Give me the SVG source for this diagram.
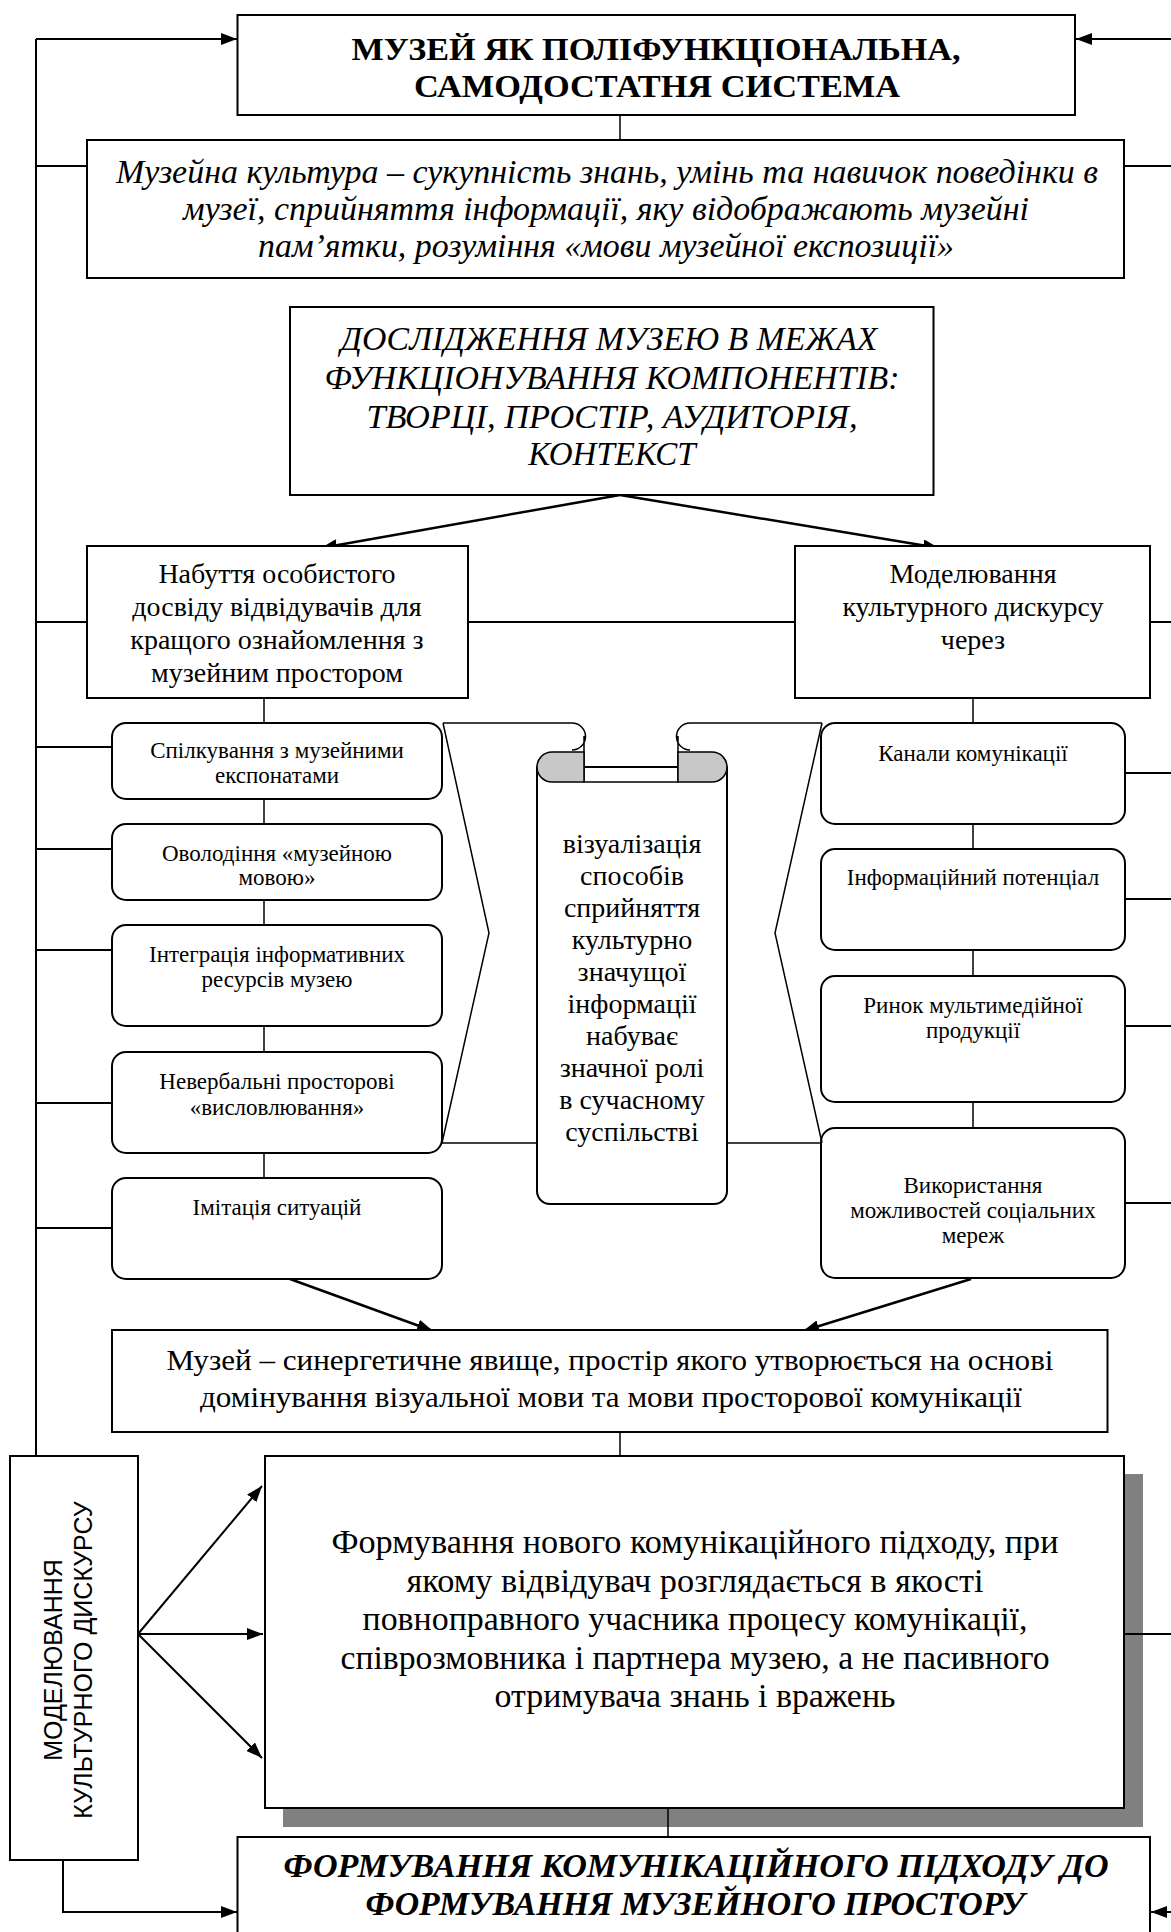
<svg xmlns="http://www.w3.org/2000/svg" width="1171" height="1932" viewBox="0 0 1171 1932">
<style>
.box{fill:#fff;stroke:#000;stroke-width:2}
.ln{fill:none;stroke:#000;stroke-width:2}
.th{fill:none;stroke:#000;stroke-width:1.5}
.ar{fill:none;stroke:#000;stroke-width:2.5}
text{font-family:"Liberation Serif","Times New Roman",serif;fill:#000;text-anchor:middle}
.t1{font-size:32px;font-weight:bold}
.it{font-size:34px;font-style:italic}
.it2{font-size:33px;font-style:italic}
.m{font-size:28px}
.s{font-size:23px}
.sc{font-size:28px}
.syn{font-size:30px}
.big{font-size:33px}
.fin{font-size:33px;font-weight:bold;font-style:italic}
.v{font-family:"Liberation Sans",Arial,sans-serif;font-size:25px}
</style>
<defs>
<marker id="ah" markerUnits="userSpaceOnUse" markerWidth="16" markerHeight="12" refX="16" refY="6" orient="auto">
<path d="M0,0 L16,6 L0,12 Z" fill="#000"/>
</marker>
</defs>

<g id="connectors">
<path class="ln" d="M36,39 L36,1456"/>
<path class="ln" d="M36,39 L237,39" marker-end="url(#ah)"/>
<path class="ln" d="M1171,39 L1076,39" marker-end="url(#ah)"/>
<path class="ln" d="M36,166 L87,166 M1124,166 L1171,166"/>
<path class="th" d="M620,115 L620,140"/>
<path class="ar" d="M620,495 L321,548" marker-end="url(#ah)"/>
<path class="ar" d="M620,495 L939,548" marker-end="url(#ah)"/>
<path class="ln" d="M36,622 L87,622 M468,622 L795,622 M1150,622 L1171,622"/>
<path class="th" d="M264,698 L264,1178"/>
<path class="th" d="M973,698 L973,1128"/>
<path class="ln" d="M36,747 L112,747 M36,849 L112,849 M36,950 L112,950 M36,1103 L112,1103 M36,1228 L112,1228"/>
<path class="ln" d="M1125,773 L1171,773 M1125,899 L1171,899 M1125,1026 L1171,1026 M1125,1203 L1171,1203"/>
<path class="th" d="M442,1143 L537,1143 M727,1143 L821,1143"/>
<path class="ar" d="M290,1279 L433,1331" marker-end="url(#ah)"/>
<path class="ar" d="M971,1279 L803,1331" marker-end="url(#ah)"/>
<path class="th" d="M620,1432 L620,1456"/>
<path class="ln" d="M138,1634 L262,1486" marker-end="url(#ah)"/>
<path class="ln" d="M138,1634 L263,1634" marker-end="url(#ah)"/>
<path class="ln" d="M138,1634 L262,1758" marker-end="url(#ah)"/>
<path class="ln" d="M63,1860 L63,1912 L237,1912" marker-end="url(#ah)"/>
<path class="ln" d="M1171,1912 L1151,1912" marker-end="url(#ah)"/>
</g>

<g id="n-title">
<rect class="box" x="237.5" y="15" width="837.5" height="100"/>
<text class="t1" x="656" y="60" textLength="609" lengthAdjust="spacingAndGlyphs">МУЗЕЙ ЯК ПОЛІФУНКЦІОНАЛЬНА,</text>
<text class="t1" x="657" y="97" textLength="486" lengthAdjust="spacingAndGlyphs">САМОДОСТАТНЯ СИСТЕМА</text>
</g>

<g id="n-culture">
<rect class="box" x="87" y="140" width="1037" height="138"/>
<text class="it" x="607" y="183" textLength="982" lengthAdjust="spacingAndGlyphs">Музейна культура – сукупність знань, умінь та навичок поведінки в</text>
<text class="it" x="606" y="220" textLength="846" lengthAdjust="spacingAndGlyphs">музеї, сприйняття інформації, яку відображають музейні</text>
<text class="it" x="606" y="257" textLength="696" lengthAdjust="spacingAndGlyphs">пам’ятки, розуміння «мови музейної експозиції»</text>
</g>

<g id="n-research">
<rect class="box" x="290" y="307" width="643.5" height="188"/>
<text class="it2" x="609" y="350" textLength="537" lengthAdjust="spacingAndGlyphs">ДОСЛІДЖЕННЯ МУЗЕЮ В МЕЖАХ</text>
<text class="it2" x="612" y="389" textLength="575" lengthAdjust="spacingAndGlyphs">ФУНКЦІОНУВАННЯ КОМПОНЕНТІВ:</text>
<text class="it2" x="612" y="428" textLength="491" lengthAdjust="spacingAndGlyphs">ТВОРЦІ, ПРОСТІР, АУДИТОРІЯ,</text>
<text class="it2" x="612" y="465">КОНТЕКСТ</text>
</g>

<g id="n-experience">
<rect class="box" x="87" y="546" width="381" height="152"/>
<text class="m" x="277" y="583">Набуття особистого</text>
<text class="m" x="277" y="616">досвіду відвідувачів для</text>
<text class="m" x="277" y="649">кращого ознайомлення з</text>
<text class="m" x="277" y="682">музейним простором</text>
</g>

<g id="n-modeling">
<rect class="box" x="795" y="546" width="355" height="152"/>
<text class="m" x="973" y="583">Моделювання</text>
<text class="m" x="973" y="616">культурного дискурсу</text>
<text class="m" x="973" y="649">через</text>
</g>

<g id="n-l1">
<rect class="box" x="112" y="723" width="330" height="76" rx="14"/>
<text class="s" x="277" y="758">Спілкування з музейними</text>
<text class="s" x="277" y="783">експонатами</text>
</g>
<g id="n-l2">
<rect class="box" x="112" y="824" width="330" height="76" rx="14"/>
<text class="s" x="277" y="861">Оволодіння «музейною</text>
<text class="s" x="277" y="885">мовою»</text>
</g>
<g id="n-l3">
<rect class="box" x="112" y="925" width="330" height="101" rx="14"/>
<text class="s" x="277" y="962">Інтеграція інформативних</text>
<text class="s" x="277" y="987">ресурсів музею</text>
</g>
<g id="n-l4">
<rect class="box" x="112" y="1052" width="330" height="101" rx="14"/>
<text class="s" x="277" y="1089">Невербальні просторові</text>
<text class="s" x="277" y="1115">«висловлювання»</text>
</g>
<g id="n-l5">
<rect class="box" x="112" y="1178" width="330" height="101" rx="14"/>
<text class="s" x="277" y="1215">Імітація ситуацій</text>
</g>

<g id="n-r1">
<rect class="box" x="821" y="723" width="304" height="101" rx="14"/>
<text class="s" x="973" y="761">Канали комунікації</text>
</g>
<g id="n-r2">
<rect class="box" x="821" y="849" width="304" height="101" rx="14"/>
<text class="s" x="973" y="885">Інформаційний потенціал</text>
</g>
<g id="n-r3">
<rect class="box" x="821" y="976" width="304" height="126" rx="14"/>
<text class="s" x="973" y="1013">Ринок мультимедійної</text>
<text class="s" x="973" y="1038">продукції</text>
</g>
<g id="n-r4">
<rect class="box" x="821" y="1128" width="304" height="150" rx="14"/>
<text class="s" x="973" y="1193">Використання</text>
<text class="s" x="973" y="1218">можливостей соціальних</text>
<text class="s" x="973" y="1243">мереж</text>
</g>

<g id="n-scroll">
<path class="th" d="M443,723 L489,933 L442,1143"/>
<path class="th" d="M822,723 L775,933 L822,1143"/>
<path class="box" d="M537,767 L537,1191 A13,13 0 0 0 550,1204 L714,1204 A13,13 0 0 0 727,1191 L727,767 Z"/>
<path class="th" d="M443,723 L572,723 A13.5,13.5 0 0 1 572,750 M584,736 L584,782 L678,782 L678,736 M822,723 L690,723 A13.5,13.5 0 0 0 690,750"/>
<path d="M584,752 L552,752 A15,15 0 0 0 552,782 L584,782 Z" fill="#c8c8c8" stroke="#000" stroke-width="1.5"/>
<path d="M678,752 L712,752 A15,15 0 0 1 712,782 L678,782 Z" fill="#c8c8c8" stroke="#000" stroke-width="1.5"/>
<text class="sc" x="632" y="853">візуалізація</text>
<text class="sc" x="632" y="885">способів</text>
<text class="sc" x="632" y="917">сприйняття</text>
<text class="sc" x="632" y="949">культурно</text>
<text class="sc" x="632" y="981">значущої</text>
<text class="sc" x="632" y="1013">інформації</text>
<text class="sc" x="632" y="1045">набуває</text>
<text class="sc" x="632" y="1077">значної ролі</text>
<text class="sc" x="632" y="1109">в сучасному</text>
<text class="sc" x="632" y="1141">суспільстві</text>
</g>

<g id="n-synergy">
<rect class="box" x="112" y="1330" width="995.5" height="102"/>
<text class="syn" x="610" y="1370" textLength="887" lengthAdjust="spacingAndGlyphs">Музей – синергетичне явище, простір якого утворюється на основі</text>
<text class="syn" x="611" y="1407" textLength="822" lengthAdjust="spacingAndGlyphs">домінування візуальної мови та мови просторової комунікації</text>
</g>

<g id="n-vertical">
<rect class="box" x="10" y="1456" width="128" height="404"/>
<text class="v" transform="translate(62,1660) rotate(-90)">МОДЕЛЮВАННЯ</text>
<text class="v" transform="translate(92,1660) rotate(-90)">КУЛЬТУРНОГО ДИСКУРСУ</text>
</g>

<g id="n-approach">
<rect x="283" y="1474" width="860" height="353" fill="#808080"/>
<path class="ln" d="M1124,1634 L1171,1634"/>
<rect class="box" x="265" y="1456" width="859" height="352"/>
<text class="big" x="695" y="1553" textLength="727" lengthAdjust="spacingAndGlyphs">Формування нового комунікаційного підходу, при</text>
<text class="big" x="695" y="1591.5" textLength="577" lengthAdjust="spacingAndGlyphs">якому відвідувач розглядається в якості</text>
<text class="big" x="695" y="1630" textLength="665" lengthAdjust="spacingAndGlyphs">повноправного учасника процесу комунікації,</text>
<text class="big" x="695" y="1668.5" textLength="709" lengthAdjust="spacingAndGlyphs">співрозмовника і партнера музею, а не пасивного</text>
<text class="big" x="695" y="1707" textLength="401" lengthAdjust="spacingAndGlyphs">отримувача знань і вражень</text>
<path class="th" d="M668,1808 L668,1837"/>
</g>

<g id="n-final">
<rect class="box" x="237.5" y="1837" width="912.5" height="120"/>
<text class="fin" x="696" y="1877" textLength="825" lengthAdjust="spacingAndGlyphs">ФОРМУВАННЯ КОМУНІКАЦІЙНОГО ПІДХОДУ ДО</text>
<text class="fin" x="695" y="1915" textLength="659" lengthAdjust="spacingAndGlyphs">ФОРМУВАННЯ МУЗЕЙНОГО ПРОСТОРУ</text>
</g>
</svg>
